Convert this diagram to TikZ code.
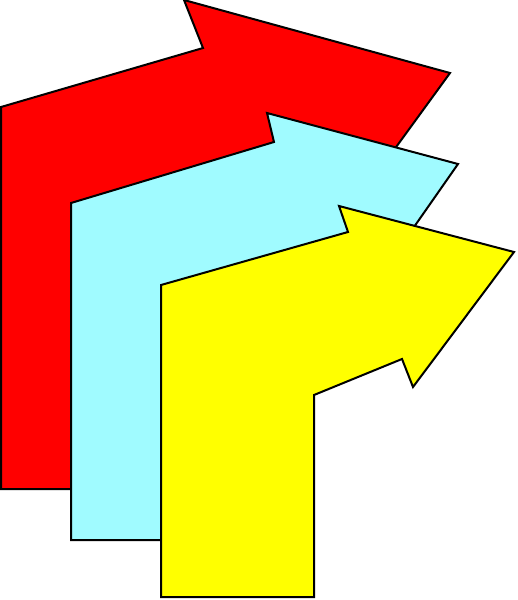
\documentclass[tikz,border=0pt]{standalone}
\definecolor{arrred}{HTML}{FF0000}
\definecolor{arrcyan}{HTML}{A0FBFF}
\definecolor{arryellow}{HTML}{FFFF00}
\tikzset{bent/.style={draw=black,line width=2pt,line join=miter}}
\begin{document}
\begin{tikzpicture}[x=1pt,y=-1pt]
\useasboundingbox (0,0) rectangle (518,600);
% red arrow (back)
\filldraw[bent,fill=arrred] (1,489) -- (1,107) -- (203,48) -- (184,0) -- (450,73)
  -- (367,187) -- (355,165) -- (230,215) -- (230,489) -- cycle;
% cyan arrow (middle)
\filldraw[bent,fill=arrcyan] (71,540) -- (71,203) -- (274,142) -- (267,113) -- (458,164)
  -- (370,290) -- (360,262) -- (250,300) -- (250,540) -- cycle;
% yellow arrow (front)
\filldraw[bent,fill=arryellow] (161,597) -- (161,285) -- (348,232) -- (339,206) -- (514,252)
  -- (413,387) -- (402,359) -- (314,395) -- (314,597) -- cycle;
\end{tikzpicture}
\end{document}
